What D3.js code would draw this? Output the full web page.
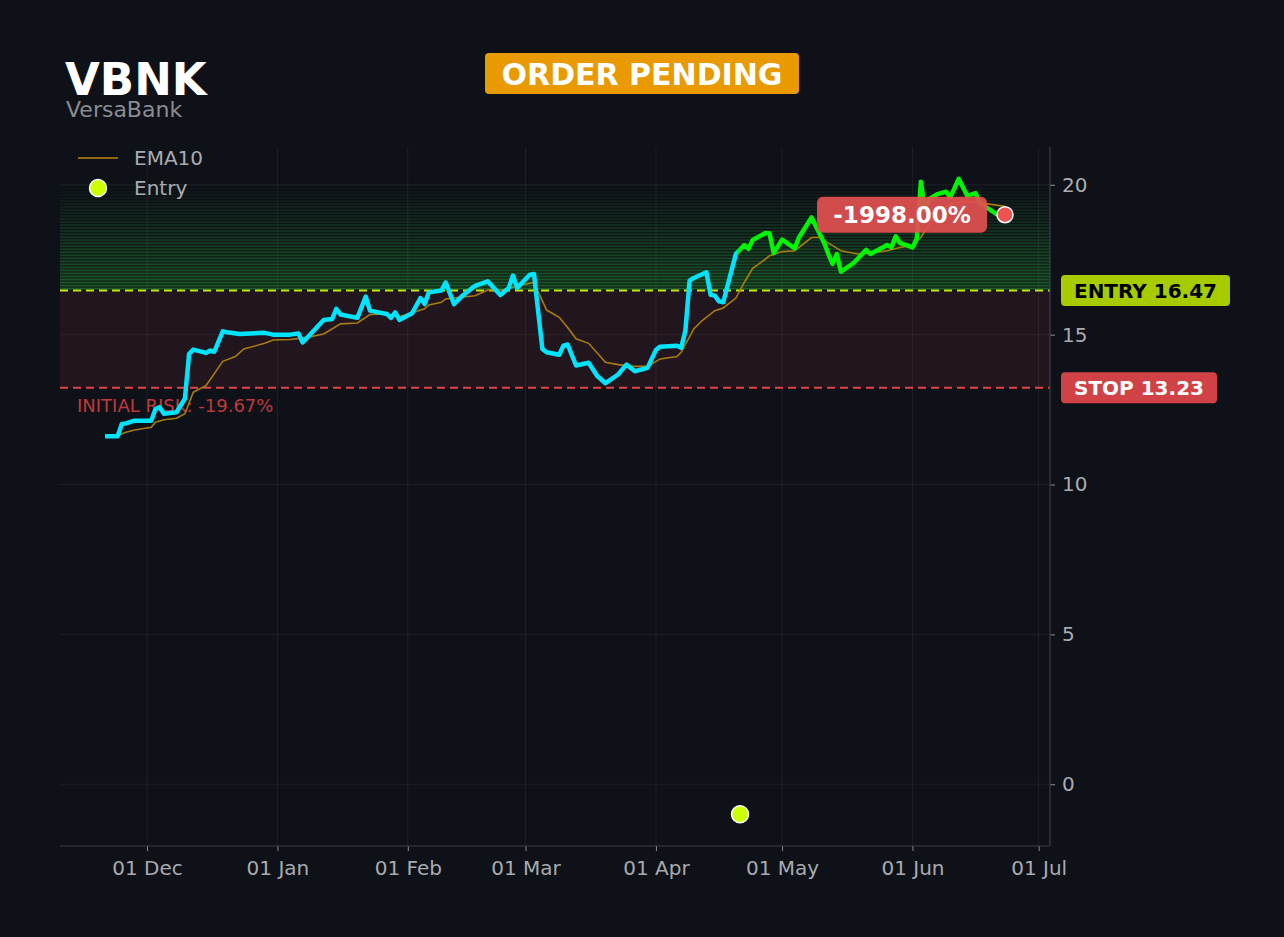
<!DOCTYPE html>
<html>
<head>
<meta charset="utf-8">
<script src="https://cdn.jsdelivr.net/npm/d3@7"></script>
<style>
  html, body { margin: 0; padding: 0; background: #0e1117; }
  svg { display: block; font-family: "DejaVu Sans", sans-serif; }
</style>
</head>
<body>
<svg id="chart" width="1284" height="937"></svg>
<script>
// chart values
const ticker = "VBNK";
const companyName = "VersaBank";
const statusText = "ORDER PENDING";
const entryPrice = 16.47;
const stopPrice = 13.23;
const entryDate = "2025-04-21";
const entryMarkerValue = -1;
const pnlText = "-1998.00%";
const riskText = "INITIAL RISK: -19.67%";
const yTicks = [0, 5, 10, 15, 20];

const priceDates = [
  "2024-11-21","2024-11-24","2024-11-25","2024-11-26","2024-11-28","2024-12-02","2024-12-03","2024-12-04",
  "2024-12-05","2024-12-08","2024-12-10","2024-12-11","2024-12-12","2024-12-15","2024-12-16","2024-12-17",
  "2024-12-19","2024-12-20","2024-12-23","2024-12-29","2024-12-31","2025-01-04","2025-01-06","2025-01-07",
  "2025-01-12","2025-01-14","2025-01-15","2025-01-16","2025-01-20","2025-01-22","2025-01-23","2025-01-27",
  "2025-01-28","2025-01-29","2025-01-30","2025-02-02","2025-02-04","2025-02-05","2025-02-06","2025-02-09",
  "2025-02-10","2025-02-12","2025-02-14","2025-02-17","2025-02-20","2025-02-23","2025-02-25","2025-02-26",
  "2025-02-27","2025-03-02","2025-03-03","2025-03-05","2025-03-06","2025-03-09","2025-03-10","2025-03-11",
  "2025-03-13","2025-03-16","2025-03-18","2025-03-20","2025-03-23","2025-03-25","2025-03-27","2025-03-30",
  "2025-04-01","2025-04-02","2025-04-06","2025-04-07","2025-04-08","2025-04-09","2025-04-10","2025-04-13",
  "2025-04-14","2025-04-15","2025-04-16","2025-04-17","2025-04-20","2025-04-22","2025-04-23","2025-04-24",
  "2025-04-27","2025-04-28","2025-04-29","2025-05-01","2025-05-04","2025-05-05","2025-05-08","2025-05-11",
  "2025-05-12","2025-05-13","2025-05-14","2025-05-15","2025-05-18","2025-05-21","2025-05-22","2025-05-26",
  "2025-05-27","2025-05-28","2025-05-29","2025-06-01","2025-06-02","2025-06-03","2025-06-04","2025-06-05",
  "2025-06-07","2025-06-09","2025-06-10","2025-06-12","2025-06-14","2025-06-16","2025-06-17","2025-06-18",
  "2025-06-21","2025-06-23"
];
const priceValues = [
  11.61, 11.61, 12.02, 12.04, 12.13, 12.13, 12.52, 12.58,
  12.36, 12.41, 12.86, 14.36, 14.50, 14.39, 14.47, 14.43,
  15.11, 15.08, 15.02, 15.06, 15.00, 15.00, 15.04, 14.74,
  15.49, 15.52, 15.86, 15.67, 15.56, 16.27, 15.80, 15.69,
  15.56, 15.74, 15.49, 15.71, 16.22, 16.02, 16.41, 16.47,
  16.74, 16.02, 16.30, 16.63, 16.78, 16.32, 16.56, 16.97,
  16.56, 17.00, 17.02, 14.52, 14.41, 14.33, 14.63, 14.67,
  13.97, 14.06, 13.63, 13.38, 13.67, 14.00, 13.78, 13.89,
  14.49, 14.60, 14.63, 14.56, 15.13, 16.80, 16.89, 17.08,
  16.33, 16.30, 16.11, 16.08, 17.69, 17.99, 17.86, 18.16,
  18.39, 18.38, 17.72, 18.17, 17.88, 18.24, 18.91, 18.06,
  17.69, 17.36, 17.69, 17.10, 17.39, 17.83, 17.69, 17.99,
  17.91, 18.28, 18.06, 17.91, 18.19, 20.10, 19.10, 19.53,
  19.69, 19.77, 19.58, 20.20, 19.63, 19.72, 19.41, 19.30,
  19.02, 19.00
];

const emaDates = [
  "2024-11-21","2024-11-24","2024-11-26","2024-11-28","2024-12-02","2024-12-03","2024-12-05","2024-12-08",
  "2024-12-10","2024-12-12","2024-12-15","2024-12-19","2024-12-22","2024-12-24","2024-12-29","2024-12-31",
  "2025-01-04","2025-01-08","2025-01-12","2025-01-16","2025-01-20","2025-01-23","2025-01-27","2025-01-30",
  "2025-02-05","2025-02-06","2025-02-09","2025-02-10","2025-02-13","2025-02-17","2025-02-20","2025-02-24",
  "2025-02-27","2025-03-03","2025-03-06","2025-03-09","2025-03-11","2025-03-13","2025-03-16","2025-03-20",
  "2025-03-23","2025-03-27","2025-03-30","2025-04-02","2025-04-06","2025-04-07","2025-04-10","2025-04-12",
  "2025-04-15","2025-04-17","2025-04-20","2025-04-22","2025-04-24","2025-04-26","2025-04-28","2025-05-01",
  "2025-05-04","2025-05-08","2025-05-10","2025-05-13","2025-05-15","2025-05-19","2025-05-22","2025-05-26",
  "2025-05-29","2025-06-01","2025-06-03","2025-06-05","2025-06-07","2025-06-11","2025-06-14","2025-06-18",
  "2025-06-23"
];
const emaValues = [
  11.61, 11.63, 11.74, 11.82, 11.91, 12.08, 12.16, 12.21,
  12.36, 13.08, 13.30, 14.11, 14.27, 14.52, 14.71, 14.82,
  14.84, 14.91, 15.02, 15.36, 15.39, 15.67, 15.69, 15.60,
  15.86, 15.99, 16.08, 16.19, 16.24, 16.30, 16.49, 16.49,
  16.63, 16.74, 15.82, 15.58, 15.24, 14.86, 14.71, 14.08,
  14.00, 13.94, 13.94, 14.19, 14.27, 14.41, 15.19, 15.47,
  15.80, 15.89, 16.22, 16.74, 17.21, 17.41, 17.63, 17.77,
  17.80, 18.24, 18.24, 17.97, 17.80, 17.69, 17.72, 17.80,
  17.91, 17.97, 18.24, 18.70, 19.15, 19.40, 19.45, 19.38,
  19.28
];

const parse = d3.utcParse("%Y-%m-%d");
const price = priceDates.map((d, i) => ({date: parse(d), value: priceValues[i]}));
const ema = emaDates.map((d, i) => ({date: parse(d), value: emaValues[i]}));
const entryDay = parse(entryDate);

const margin = {left: 60, right: 234, top: 147, bottom: 91};
const W = 1284, H = 937;
const plotW = W - margin.left - margin.right;
const plotH = H - margin.top - margin.bottom;

const svg = d3.select("#chart");
svg.append("rect").attr("width", W).attr("height", H).attr("fill", "#0e1117");

// 5% padding like the original plot
const xExt = d3.extent(price, d => d.date);
const xPad = (xExt[1] - xExt[0]) * 0.05;
const x = d3.scaleUtc()
  .domain([new Date(+xExt[0] - xPad), new Date(+xExt[1] + xPad)])
  .range([margin.left, margin.left + plotW]);

const yMin = Math.min(d3.min(priceValues), entryMarkerValue);
const yMax = d3.max(priceValues);
const yPad = (yMax - yMin) * 0.05;
const y = d3.scaleLinear()
  .domain([yMin - yPad, yMax + yPad])
  .range([margin.top + plotH, margin.top]);

const x0 = margin.left, x1 = margin.left + plotW;

// risk zone between stop and entry
svg.append("rect")
  .attr("x", x0).attr("width", plotW)
  .attr("y", y(entryPrice)).attr("height", y(stopPrice) - y(entryPrice))
  .attr("fill", "#21161d");

// fading green band above entry
const nBands = 37;
const bandStep = (yMax - entryPrice) / nBands;
const bands = d3.range(nBands);
svg.append("g").selectAll("rect")
  .data(bands)
  .enter()
  .append("rect")
  .attr("x", x0).attr("width", plotW)
  .attr("y", i => y(entryPrice + (i + 1) * bandStep))
  .attr("height", i => Math.max(0, y(entryPrice + i * bandStep) - y(entryPrice + (i + 1) * bandStep) - 1))
  .attr("fill", "#2ecc40")
  .attr("fill-opacity", i => 0.4 * Math.pow(1 - i / nBands, 1.2));

// grid
const monthTicks = x.ticks(d3.utcMonth.every(1));
svg.append("g").selectAll("line")
  .data(monthTicks)
  .enter()
  .append("line")
  .attr("x1", d => x(d)).attr("x2", d => x(d))
  .attr("y1", margin.top).attr("y2", margin.top + plotH)
  .attr("stroke", "#ffffff").attr("stroke-opacity", 0.06);
svg.append("g").selectAll("line")
  .data(yTicks)
  .enter()
  .append("line")
  .attr("x1", x0).attr("x2", x1)
  .attr("y1", d => y(d)).attr("y2", d => y(d))
  .attr("stroke", "#ffffff").attr("stroke-opacity", 0.06);

// entry / stop lines
svg.append("line")
  .attr("x1", x0).attr("x2", x1)
  .attr("y1", y(entryPrice)).attr("y2", y(entryPrice))
  .attr("stroke", "#c8e600").attr("stroke-width", 2)
  .attr("stroke-dasharray", "8,5");
svg.append("line")
  .attr("x1", x0).attr("x2", x1)
  .attr("y1", y(stopPrice)).attr("y2", y(stopPrice))
  .attr("stroke", "#e04444").attr("stroke-width", 2)
  .attr("stroke-dasharray", "8,5");

svg.append("text")
  .attr("x", x0 + 17).attr("y", y(stopPrice) + 24)
  .attr("fill", "#c0393b").attr("font-size", 18)
  .text(riskText);

// EMA line
const line = d3.line().x(d => x(d.date)).y(d => y(d.value));
svg.append("path")
  .datum(ema)
  .attr("d", line)
  .attr("fill", "none")
  .attr("stroke", "#b8860b").attr("stroke-opacity", 0.9)
  .attr("stroke-width", 1.6);

// price line, cyan before entry, green after
const defs = svg.append("defs");
defs.append("clipPath").attr("id", "pre")
  .append("rect").attr("x", 0).attr("y", 0)
  .attr("width", x(entryDay) - 3).attr("height", H);
defs.append("clipPath").attr("id", "post")
  .append("rect").attr("x", x(entryDay) - 3).attr("y", 0)
  .attr("width", W).attr("height", H);

svg.append("path")
  .datum(price)
  .attr("d", line)
  .attr("clip-path", "url(#pre)")
  .attr("fill", "none")
  .attr("stroke", "#00e5ff").attr("stroke-width", 4.5)
  .attr("stroke-linejoin", "round");
svg.append("path")
  .datum(price)
  .attr("d", line)
  .attr("clip-path", "url(#post)")
  .attr("fill", "none")
  .attr("stroke", "#00f500").attr("stroke-width", 4.5)
  .attr("stroke-linejoin", "round");

// entry marker
svg.append("circle")
  .attr("cx", x(entryDay)).attr("cy", y(entryMarkerValue)).attr("r", 8.5)
  .attr("fill", "#ccff00").attr("stroke", "#ffffff").attr("stroke-width", 1.5);

// last price marker and P/L label
const last = price[price.length - 1];
svg.append("circle")
  .attr("cx", x(last.date)).attr("cy", y(last.value)).attr("r", 8)
  .attr("fill", "#ef5350").attr("stroke", "#ffffff").attr("stroke-width", 1.5);

const pnl = svg.append("g")
  .attr("transform", "translate(" + (x(last.date) - 103) + "," + y(last.value) + ")");
pnl.append("rect")
  .attr("x", -85).attr("y", -18).attr("width", 170).attr("height", 36).attr("rx", 6)
  .attr("fill", "#e05050").attr("fill-opacity", 0.93);
pnl.append("text")
  .attr("text-anchor", "middle").attr("dy", "0.36em")
  .attr("fill", "#ffffff").attr("font-size", 23).attr("font-weight", "bold")
  .text(pnlText);

// axes
const xAxis = svg.append("g")
  .attr("transform", "translate(0," + (margin.top + plotH) + ")")
  .call(d3.axisBottom(x).tickValues(monthTicks).tickFormat(d3.utcFormat("%d %b")).tickSize(5).tickPadding(10));
const yAxis = svg.append("g")
  .attr("transform", "translate(" + x1 + ",0)")
  .call(d3.axisRight(y).tickValues(yTicks).tickSize(5).tickPadding(7));
[xAxis, yAxis].forEach(function (g) {
  g.select(".domain").remove();
  g.selectAll(".tick line").attr("stroke", "#8a8d93");
  g.selectAll(".tick text").attr("fill", "#a9abb0").attr("font-size", 20)
    .attr("font-family", "DejaVu Sans, sans-serif");
});

// spines
svg.append("line")
  .attr("x1", x0).attr("x2", x1)
  .attr("y1", margin.top + plotH).attr("y2", margin.top + plotH)
  .attr("stroke", "#3c3f46").attr("stroke-width", 1.2);
svg.append("line")
  .attr("x1", x1).attr("x2", x1)
  .attr("y1", margin.top).attr("y2", margin.top + plotH)
  .attr("stroke", "#3c3f46").attr("stroke-width", 1.2);

// right badges
function badge(value, label, fill, color, width) {
  const g = svg.append("g").attr("transform", "translate(" + (x1 + 11) + "," + y(value) + ")");
  g.append("rect")
    .attr("x", 0).attr("y", -15.5).attr("width", width).attr("height", 31).attr("rx", 4)
    .attr("fill", fill);
  g.append("text")
    .attr("x", width / 2).attr("dy", "0.36em")
    .attr("text-anchor", "middle")
    .attr("fill", color).attr("font-size", 20).attr("font-weight", "bold")
    .text(label);
}
badge(entryPrice, "ENTRY " + entryPrice.toFixed(2), "#a6cc00", "#000000", 169);
badge(stopPrice, "STOP " + stopPrice.toFixed(2), "#d04245", "#ffffff", 156);

// legend
const legend = svg.append("g");
legend.append("line")
  .attr("x1", 78).attr("x2", 118).attr("y1", 158).attr("y2", 158)
  .attr("stroke", "#b8860b").attr("stroke-width", 1.6);
legend.append("text")
  .attr("x", 134).attr("y", 158).attr("dy", "0.36em")
  .attr("fill", "#a9abb0").attr("font-size", 20)
  .text("EMA10");
legend.append("circle")
  .attr("cx", 98).attr("cy", 188).attr("r", 8.5)
  .attr("fill", "#ccff00").attr("stroke", "#ffffff").attr("stroke-width", 1.5);
legend.append("text")
  .attr("x", 134).attr("y", 188).attr("dy", "0.36em")
  .attr("fill", "#a9abb0").attr("font-size", 20)
  .text("Entry");

// header
svg.append("text")
  .attr("x", 65).attr("y", 95)
  .attr("fill", "#ffffff").attr("font-size", 45).attr("font-weight", "bold")
  .text(ticker);
svg.append("text")
  .attr("x", 66).attr("y", 117)
  .attr("fill", "#8a8c91").attr("font-size", 22)
  .text(companyName);

const status = svg.append("g").attr("transform", "translate(642,74)");
status.append("rect")
  .attr("x", -157).attr("y", -21).attr("width", 314).attr("height", 41).attr("rx", 4)
  .attr("fill", "#e89a00");
status.append("text")
  .attr("text-anchor", "middle").attr("dy", "0.36em")
  .attr("fill", "#ffffff").attr("font-size", 30).attr("font-weight", "bold")
  .text(statusText);
</script>
</body>
</html>
